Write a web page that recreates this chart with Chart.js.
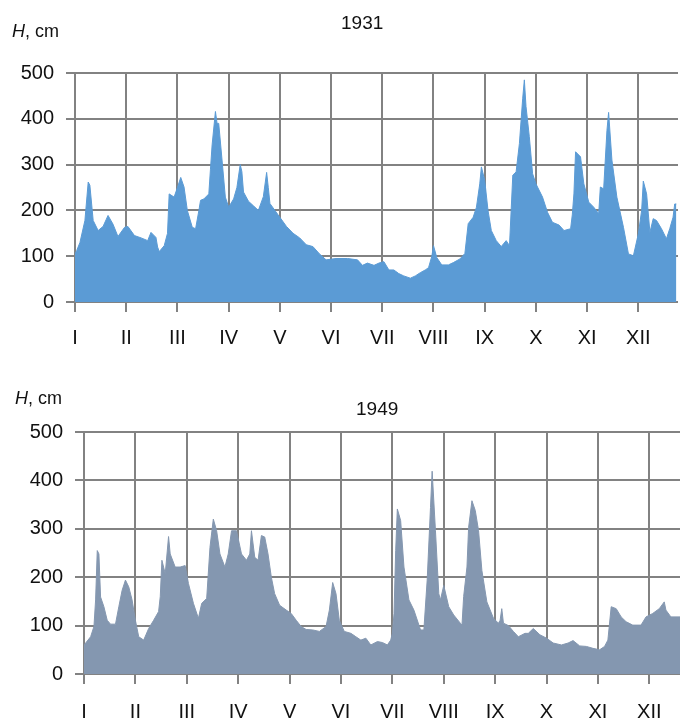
<!DOCTYPE html>
<html>
<head>
<meta charset="utf-8">
<script src="https://cdn.jsdelivr.net/npm/chart.js@4.4.1/dist/chart.umd.min.js"></script>
<style>
  html, body { margin: 0; padding: 0; background: #fff; overflow: hidden; }
  body { width: 680px; height: 720px; position: relative; font-family: "Liberation Sans", Arial, sans-serif; color: #111; }
  canvas { position: absolute; left: 0; }
  #c1 { top: 0; }
  #c2 { top: 360px; }
  .lbl { position: absolute; font-size: 18px; line-height: 1; white-space: nowrap; }
  .ttl { position: absolute; font-size: 19px; line-height: 1; white-space: nowrap; }
  .lbl i { font-style: italic; }
</style>
</head>
<body>
<canvas id="c1" width="680" height="360"></canvas>
<canvas id="c2" width="680" height="360"></canvas>
<div class="lbl" style="left:12px; top:22px;"><i>H</i>, cm</div>
<div class="ttl" style="left:341px; top:13px;">1931</div>
<div class="lbl" style="left:15px; top:389px;"><i>H</i>, cm</div>
<div class="ttl" style="left:356px; top:399px;">1949</div>
<script>
// Month labels and tick positions (day index, Excel category interval 31)
const MONTHS = ["I","II","III","IV","V","VI","VII","VIII","IX","X","XI","XII"];
const MONTH_TICKS = [0,31,62,93,124,155,186,217,248,279,310,341];
const Y_TICKS = [0,100,200,300,400,500];

// 1931: day index and water level H (cm)
const days1931 = [0,1,3,6,8,9,11,14,17,20,23,26,30,32,36,40,44,46,49,50,51,54,56,57,60,62,64,66,68,71,73,75,76,78,81,82,83,85,86,87,89,91,93,96,98,100,101,102,105,108,111,114,116,117,118,121,124,128,132,136,140,144,148,152,158,165,171,174,177,181,184,187,190,193,196,199,203,206,209,212,214,216,217,219,222,226,229,233,236,238,241,243,245,246,248,250,252,255,258,261,263,264,265,267,269,271,272,273,275,277,279,283,286,289,293,296,300,301,302,303,306,308,311,314,317,318,320,322,323,325,328,332,335,338,341,343,344,346,348,350,352,355,358,360,362,363,364];
const h1931 = [105,112,130,178,262,255,178,156,165,189,170,143,163,165,145,140,134,152,141,120,110,123,150,236,229,250,272,251,200,163,160,200,222,225,236,290,343,416,390,390,310,229,207,225,250,300,285,240,220,210,200,230,283,250,215,200,185,165,150,140,125,121,105,92,95,95,92,80,85,80,85,88,70,70,62,57,52,57,64,70,75,100,123,97,81,81,86,94,106,171,185,207,258,295,266,200,156,134,121,134,123,200,277,284,346,445,485,427,361,280,258,229,196,174,168,156,160,190,236,328,317,258,218,207,193,251,247,375,414,310,229,163,105,101,149,200,264,236,152,182,178,160,138,160,185,214,214];

// 1949: day index and water level H (cm)
const days1949 = [0,1,4,6,7,8,9,10,12,14,16,19,21,23,25,27,29,31,33,36,39,42,45,46,47,49,51,52,55,58,61,63,66,69,71,74,76,78,80,82,85,87,89,92,95,98,100,101,103,105,107,109,111,113,115,118,122,125,128,131,134,138,142,146,148,150,152,154,157,161,164,167,170,173,177,180,183,185,186,187,188,189,191,193,196,199,203,205,207,209,210,212,214,215,217,220,223,227,228,229,231,232,234,236,238,240,243,247,250,251,252,253,256,259,262,266,268,271,275,279,283,288,292,295,299,303,307,311,314,316,318,321,324,327,331,336,339,343,347,350,351,354,359.5];
const h1949 = [60,64,77,98,153,255,248,159,139,111,103,103,139,173,194,180,153,111,77,70,94,111,129,160,235,207,284,248,221,221,224,187,146,115,146,156,262,320,296,248,221,248,296,296,248,235,248,296,241,235,286,283,248,200,166,142,132,125,111,98,92,91,88,98,132,189,166,111,88,84,77,70,74,60,67,65,60,70,84,125,255,341,317,221,153,132,91,91,194,344,419,296,166,153,183,139,122,105,101,160,221,303,358,338,296,214,149,115,105,111,135,105,100,88,77,84,84,94,81,74,64,60,64,69,58,57,53,50,57,70,139,135,118,108,101,101,118,125,135,149,132,118,118];

const GRID = "#828282";
const FONT = { family: "'Liberation Sans', Arial, sans-serif", size: 20 };

function makeChart(id, days, values, color, xMax, plotLeft, plotTop, plotBottom, padRight, xPad) {
  const canvas = document.getElementById(id);
  const H = canvas.height;
  return new Chart(canvas, {
    type: 'line',
    data: {
      datasets: [{
        data: days.map((d, i) => ({ x: d, y: values[i] })),
        borderColor: color,
        backgroundColor: color,
        borderWidth: 1,
        fill: 'origin',
        pointRadius: 0,
        tension: 0
      }]
    },
    options: {
      responsive: false,
      animation: false,
      devicePixelRatio: 1,
      layout: { padding: { top: plotTop, right: padRight, left: 0, bottom: 0 } },
      plugins: { legend: { display: false }, tooltip: { enabled: false }, title: { display: false } },
      scales: {
        x: {
          type: 'linear',
          min: 0,
          max: xMax,
          afterBuildTicks: (s) => { s.ticks = MONTH_TICKS.map(v => ({ value: v })); },
          afterFit: (s) => { s.height = H - plotBottom; },
          ticks: {
            autoSkip: false,
            maxRotation: 0,
            padding: xPad,
            color: '#111',
            font: FONT,
            callback: (v) => MONTHS[MONTH_TICKS.indexOf(v)]
          },
          grid: { color: GRID, lineWidth: 2, tickLength: 10, drawTicks: true },
          border: { display: false }
        },
        y: {
          min: 0,
          max: 500,
          afterBuildTicks: (s) => { s.ticks = Y_TICKS.map(v => ({ value: v })); },
          afterFit: (s) => { s.width = plotLeft; },
          ticks: { padding: 12, color: '#111', font: FONT },
          grid: { color: GRID, lineWidth: 2, tickLength: 9, drawTicks: true },
          border: { display: false }
        }
      }
    }
  });
}

makeChart('c1', days1931, h1931, '#5b9bd5', 365, 75, 73, 302, 2, 14);
makeChart('c2', days1949, h1949, '#8497b0', 359.5, 84, 72, 314, 0, 16);
</script>
</body>
</html>
